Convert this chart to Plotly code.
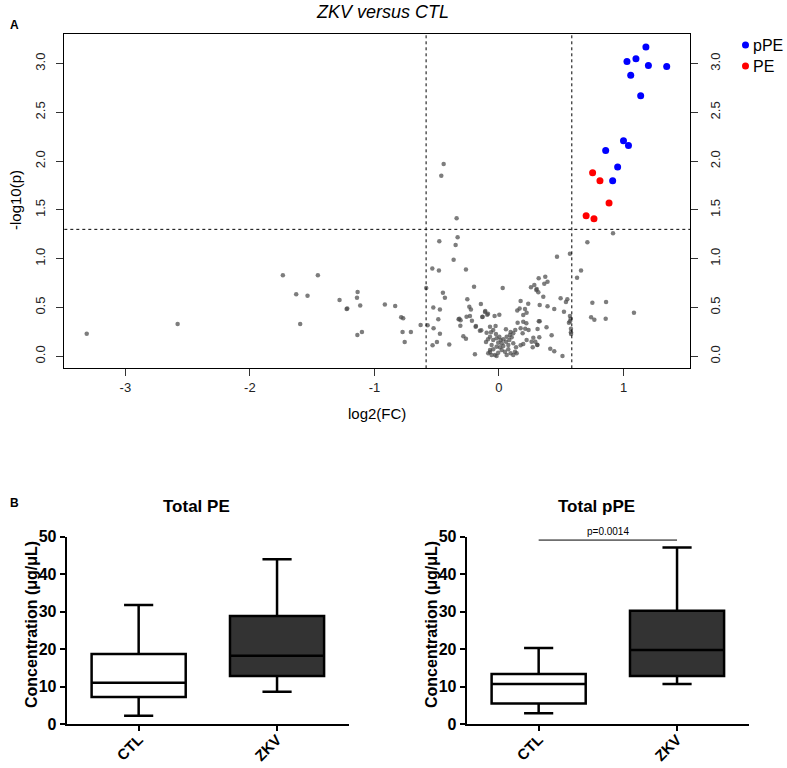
import plotly.graph_objects as go

# volcano plot: grey (non significant) points, log2(FC) / -log10(p)
grey_fc = [-3.31, -2.58, -1.735, -1.628, -1.596, -1.537, -1.454, -1.28, -1.223, -1.218, -1.135, -1.14,
           -1.114, -1.137, -1.10, -0.916, -0.833, -0.785, -0.769, -0.774, -0.707, -0.757, -0.629,
           -0.584, -0.573, -0.535, -0.482, -0.479, -0.527, -0.474, -0.525, -0.487, -0.474, -0.498,
           -0.533, -0.399, -0.45, -0.434, -0.364, -0.348, -0.332, -0.34, -0.444, -0.463, -0.324,
           -0.318, -0.308, -0.31, -0.286, -0.265, -0.265, -0.254, -0.238, -0.225, -0.26, -0.233,
           -0.217, -0.20, -0.185, -0.193, -0.153, -0.145, -0.134, -0.112, -0.094, -0.099, -0.104,
           -0.072, -0.035, 0.003, 0.03, -0.187, -0.131, -0.11, -0.088, -0.142, -0.027, -0.046,
           -0.064, -0.088,
           -0.072, -0.046, -0.019, 0.003, 0.014, 0.035, 0.062, 0.083, 0.102, 0.115, 0.075, 0.035,
           0.008, -0.019, -0.046, -0.072, -0.086, -0.032, -0.006, 0.022, 0.048, 0.075, 0.094, 0.115,
           0.137, 0.129, 0.022, -0.006, -0.059, 0.056, -0.024, 0.088, -0.059, 0.062, 0.142, -0.072,
           -0.019, 0.056, 0.094, 0.115, 0.131,
           0.147, 0.166, 0.209, 0.222, 0.195, 0.174, 0.235, 0.15, 0.195, 0.22, 0.32, 0.174, 0.211,
           0.238, 0.19, 0.276, 0.292, 0.308, 0.324, 0.271, 0.174, 0.195, 0.257, 0.284, 0.303, 0.316,
           0.319, 0.372, 0.364, 0.39, 0.30, 0.356, 0.495, 0.549, 0.538, 0.327, 0.39, 0.444, 0.522,
           0.57, 0.576, 0.57, 0.562, 0.327, 0.382, 0.31, 0.578, 0.578, 0.579, 0.423, 0.308, 0.412,
           0.444, 0.51, 0.466, 0.57, 0.222, 0.262,
           0.916, 0.71, 0.659, 0.627, 0.75, 0.86, 0.74, 0.766, 0.857, 1.084]
grey_p = [0.23, 0.33, 0.83, 0.635, 0.33, 0.62, 0.83, 0.577, 0.485, 0.49, 0.66, 0.60,
          0.52, 0.218, 0.25, 0.53, 0.515, 0.40, 0.39, 0.25, 0.25, 0.146, 0.32,
          0.70, 0.317, 0.90, 0.88, 1.18, 0.50, 0.48, 0.287, 0.38, 0.23, 0.146,
          0.113, 0.12, 0.65, 0.60, 0.99, 1.14, 1.22, 1.414, 1.97, 1.85, 0.38,
          0.385, 0.369, 0.314, 0.205, 0.18, 0.89, 0.584, 0.508, 0.48, 0.406, 0.413,
          0.365, 0.713, 0.31, 0.02, 0.262, 0.536, 0.403, 0.454, 0.426, 0.242, 0.146,
          0.303, 0.413, 0.426, 0.70, 0.303, 0.406, 0.464, 0.436, 0.266, 0.31, 0.27,
          0.246, 0.174,
          0.20, 0.167, 0.184, 0.20, 0.167, 0.174, 0.20, 0.167, 0.195, 0.133, 0.116, 0.105,
          0.092, 0.098, 0.072, 0.065, 0.031, 0.013, 0.037, 0.065, 0.047, 0.072, 0.031, 0.013,
          0.092, 0.047, 0.133, 0.139, 0.116, 0.15, 0.228, 0.218, 0.013, 0.013, 0.031, 0.044,
          0.003, 0.277, 0.249, 0.236, 0.269,
          0.47, 0.49, 0.485, 0.447, 0.423, 0.567, 0.539, 0.344, 0.355, 0.338, 0.359, 0.287, 0.283,
          0.27, 0.236, 0.19, 0.15, 0.119, 0.195, 0.092, 0.113, 0.126, 0.707, 0.73, 0.69, 0.656,
          0.80, 0.816, 0.744, 0.764, 0.68, 0.61, 0.594, 0.584, 0.556, 0.526, 0.512, 0.485, 0.457,
          0.413, 0.385, 0.358, 0.344, 0.36, 0.297, 0.28, 0.283, 0.246, 0.228, 0.215, 0.116, 0.078,
          0.051, 0.003, 1.02, 1.05, 0.167, 0.15,
          1.26, 1.17, 0.88, 0.805, 0.55, 0.556, 0.40, 0.375, 0.385, 0.447]

ppe_fc = [1.18, 1.10, 1.028, 1.20, 1.347, 1.058, 1.138, 1.0, 1.04, 0.857, 0.953, 0.913]
ppe_p = [3.17, 3.05, 3.02, 2.98, 2.97, 2.88, 2.67, 2.21, 2.16, 2.11, 1.94, 1.80]

pe_fc = [0.70, 0.763, 0.884, 0.752, 0.811]
pe_p = [1.44, 1.41, 1.57, 1.88, 1.80]

fc_cut = 0.585
p_cut = 1.301

x_ticks = [-3, -2, -1, 0, 1]
x_ticktext = ["-3", "-2", "-1", "0", "1"]
y_ticks = [0, 0.5, 1.0, 1.5, 2.0, 2.5, 3.0]
y_ticktext = ["0.0", "0.5", "1.0", "1.5", "2.0", "2.5", "3.0"]

legend_names = ["pPE", "PE"]
legend_colors = ["#0000ff", "#ff0000"]

# box plots (GraphPad style, min-max whiskers)
groups = ["CTL", "ZKV"]
pe_q1 = [7.2, 12.8]
pe_median = [11.0, 18.2]
pe_q3 = [18.7, 28.8]
pe_min = [2.2, 8.6]
pe_max = [31.8, 44.0]

ppe_q1 = [5.5, 12.8]
ppe_median = [10.7, 19.75]
ppe_q3 = [13.35, 30.25]
ppe_min = [2.85, 10.7]
ppe_max = [20.3, 47.1]

box_colors = ["white", "#333333"]
p_line_y = 49.1
p_text = "p=0.0014"

FONT = "Liberation Sans, Arial, sans-serif"
W, H = 787, 768


def px(v):
    return v / W


def py(v):
    return 1 - v / H


fig = go.Figure()

fig.add_trace(go.Scatter(x=grey_fc, y=grey_p, mode="markers", showlegend=False,
                         marker=dict(size=4.5, color="rgba(75,75,75,0.72)"),
                         xaxis="x", yaxis="y", hoverinfo="skip"))
fig.add_trace(go.Scatter(x=ppe_fc, y=ppe_p, mode="markers", name="pPE",
                         marker=dict(size=7, color=legend_colors[0]), xaxis="x", yaxis="y"))
fig.add_trace(go.Scatter(x=pe_fc, y=pe_p, mode="markers", name="PE",
                         marker=dict(size=7, color=legend_colors[1]), xaxis="x", yaxis="y"))
# empty trace so the right-hand axis gets drawn
fig.add_trace(go.Scatter(x=[], y=[], showlegend=False, xaxis="x", yaxis="y2"))

for xa, ya, q1, med, q3, lo, hi in [("x2", "y3", pe_q1, pe_median, pe_q3, pe_min, pe_max),
                                    ("x3", "y4", ppe_q1, ppe_median, ppe_q3, ppe_min, ppe_max)]:
    for i, g in enumerate(groups):
        fig.add_trace(go.Box(x=[g], q1=[q1[i]], median=[med[i]], q3=[q3[i]],
                             lowerfence=[lo[i]], upperfence=[hi[i]],
                             fillcolor=box_colors[i], line=dict(color="black", width=2.5),
                             width=0.68, whiskerwidth=0.31, boxpoints=False,
                             showlegend=False, xaxis=xa, yaxis=ya))

fig.add_trace(go.Scatter(x=groups, y=[p_line_y, p_line_y], mode="lines",
                         line=dict(color="black", width=1), showlegend=False,
                         xaxis="x3", yaxis="y4", hoverinfo="skip"))

tick_font = dict(family=FONT, size=13, color="#222222")
volc_y_dom = [py(368.3), py(34.3)]
box_y_dom = [py(724), py(536.7)]

box_x = dict(type="category", categoryarray=groups, range=[-0.52, 1.52], showline=True,
             linecolor="black", linewidth=2, ticks="outside", ticklen=5, tickwidth=2,
             tickcolor="black", tickangle=-45, ticklabelstandoff=-6,
             showgrid=False, zeroline=False, automargin=False,
             tickfont=dict(family=FONT, size=15, color="black", weight="bold"))
box_y = dict(range=[0, 50], tickvals=[0, 10, 20, 30, 40, 50], showline=True, linecolor="black",
             linewidth=2, ticks="outside", ticklen=5, tickwidth=2, tickcolor="black",
             showgrid=False, zeroline=False, automargin=False,
             tickfont=dict(family=FONT, size=16, color="black", weight="bold"))

fig.update_layout(
    width=W, height=H,
    margin=dict(l=0, r=0, t=0, b=0),
    paper_bgcolor="white", plot_bgcolor="white",
    font=dict(family=FONT, color="black"),
    boxmode="overlay",
    showlegend=False,
    xaxis=dict(domain=[px(64.3), px(690)], range=[-3.49, 1.534], tickvals=x_ticks,
               ticktext=x_ticktext, ticks="outside", ticklen=7, tickcolor="#333",
               showline=True, mirror=True, linecolor="black", linewidth=1, automargin=False,
               showgrid=False, zeroline=False, anchor="y", tickfont=tick_font),
    yaxis=dict(domain=volc_y_dom, range=[-0.123, 3.30], tickvals=y_ticks, ticktext=y_ticktext,
               tickangle=-90, ticks="outside", ticklen=7, tickcolor="#333",
               ticklabelstandoff=6, automargin=False,
               showline=True, mirror=True, linecolor="black", linewidth=1,
               showgrid=False, zeroline=False, anchor="x", tickfont=tick_font),
    yaxis2=dict(overlaying="y", side="right", range=[-0.123, 3.30], tickvals=y_ticks,
                ticktext=y_ticktext, tickangle=-90, ticks="outside", ticklen=7,
                ticklabelstandoff=6, automargin=False,
                tickcolor="#333", showgrid=False, zeroline=False, anchor="x",
                tickfont=tick_font),
    xaxis2=dict(domain=[px(66.7), px(349)], anchor="y3", **box_x),
    yaxis3=dict(domain=box_y_dom, anchor="x2", **box_y),
    xaxis3=dict(domain=[px(466.7), px(749)], anchor="y4", **box_x),
    yaxis4=dict(domain=box_y_dom, anchor="x3", **box_y),
)

dot = dict(color="black", width=1, dash="dot")
for v in [-fc_cut, fc_cut]:
    fig.add_shape(type="line", xref="x", yref="y domain", x0=v, x1=v, y0=0, y1=1, line=dot)
fig.add_shape(type="line", xref="x domain", yref="y", x0=0, x1=1, y0=p_cut, y1=p_cut, line=dot)

# legend drawn by hand (R style: dot right next to the label)
for i, (name, col) in enumerate(zip(legend_names, legend_colors)):
    cy = 45 + 21 * i
    fig.add_shape(type="circle", xref="paper", yref="paper",
                  x0=px(742), x1=px(749), y0=py(cy + 3.5), y1=py(cy - 3.5),
                  fillcolor=col, line=dict(width=0))
    fig.add_annotation(text=name, x=px(751), y=py(cy), xref="paper", yref="paper",
                       showarrow=False, xanchor="left", yanchor="middle",
                       font=dict(family=FONT, size=16, color="black"))

ann = [
    dict(text="<i>ZKV versus CTL</i>", x=px(382), y=py(12), size=18, angle=0),
    dict(text="<b>A</b>", x=px(14), y=py(25), size=12, angle=0),
    dict(text="<b>B</b>", x=px(14), y=py(503), size=12, angle=0),
    dict(text="log2(FC)", x=px(377), y=py(413), size=15, angle=0),
    dict(text="-log10(p)", x=px(15), y=py(200), size=15, angle=-90),
    dict(text="<b>Total PE</b>", x=px(196), y=py(506), size=17, angle=0),
    dict(text="<b>Total pPE</b>", x=px(596), y=py(506), size=17, angle=0),
    dict(text="<b>Concentration (μg/μL)</b>", x=px(31), y=py(625), size=16, angle=-90),
    dict(text="<b>Concentration (μg/μL)</b>", x=px(431), y=py(625), size=16, angle=-90),
]
for a in ann:
    fig.add_annotation(text=a["text"], x=a["x"], y=a["y"], xref="paper", yref="paper",
                       showarrow=False, textangle=a["angle"], xanchor="center", yanchor="middle",
                       font=dict(family=FONT, size=a["size"], color="black"))

fig.add_annotation(text=p_text, x=0.5, y=p_line_y, xref="x3", yref="y4", yshift=9,
                   showarrow=False, font=dict(family=FONT, size=10, color="black"))

# the page body has a default 8px margin; drop it so the figure fills the window
fig.write_html("out.html", config={"displayModeBar": False},
               post_script="document.body.style.margin='0';")
